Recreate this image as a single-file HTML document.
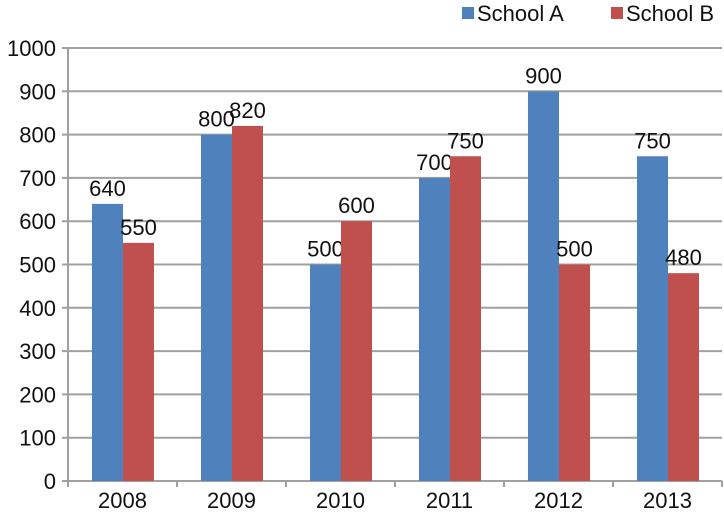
<!DOCTYPE html>
<html><head><meta charset="utf-8"><style>
body{margin:0;background:#fff}
svg{display:block;font-family:"Liberation Sans","DejaVu Sans",sans-serif}
</style></head><body>
<svg id="chart" width="724" height="514"></svg>
<script>
const categories=["2008","2009","2010","2011","2012","2013"];
const schoolA=[640,800,500,700,900,750];
const schoolB=[550,820,600,750,500,480];
const yTicks=[0,100,200,300,400,500,600,700,800,900,1000];
const NS="http://www.w3.org/2000/svg";
const svg=document.getElementById("chart");
const x0=68,x1=722,yTop=48,yBot=481,catW=(x1-x0)/categories.length,bw=31;
const y=v=>yBot-(v/1000)*(yBot-yTop);
function mk(t,a,p){const e=document.createElementNS(NS,t);for(const k in a)e.setAttribute(k,a[k]);(p||svg).appendChild(e);return e;}
yTicks.forEach(v=>{
 const l=mk("line",{x1:62,x2:x1,y1:y(v),y2:y(v),stroke:"#a0a0a0","stroke-width":2});
 
 
 const t=mk("text",{x:56,y:y(v)+8,"text-anchor":"end","font-size":22,fill:"#111"});t.textContent=v;
 
 
});
const ax=mk("line",{x1:x0,x2:x0,y1:yTop,y2:yBot+6,stroke:"#a0a0a0","stroke-width":2});


categories.forEach((c,i)=>{
 const cx=x0+catW*i;
 const tk=mk("line",{x1:cx+catW,x2:cx+catW,y1:yBot,y2:yBot+6,stroke:"#a0a0a0","stroke-width":2});
 
 
 const lab=mk("text",{x:cx+catW/2,y:508,"text-anchor":"middle","font-size":22,fill:"#111"});lab.textContent=c;
 
 
 [[schoolA[i],"#4f81bd",cx+24],[schoolB[i],"#c0504d",cx+24+bw]].forEach(([v,col,bx],s)=>{
  const r=mk("rect",{x:bx,y:y(v),width:bw,height:yBot-y(v),fill:col});
  
  
  const t=mk("text",{x:bx+bw/2,y:y(v)-8,"text-anchor":"middle","font-size":22,fill:"#111"});t.textContent=v;
  
  
 });
});
[["School A","#4f81bd",462],["School B","#c0504d",611]].forEach(([n,col,lx])=>{
 const g=mk("g",{});
 
 
 mk("rect",{x:lx,y:7,width:12,height:12,fill:col},g);
 const t=mk("text",{x:lx+15,y:21,"font-size":22,fill:"#111"},g);t.textContent=n;
});
</script>
</body></html>
